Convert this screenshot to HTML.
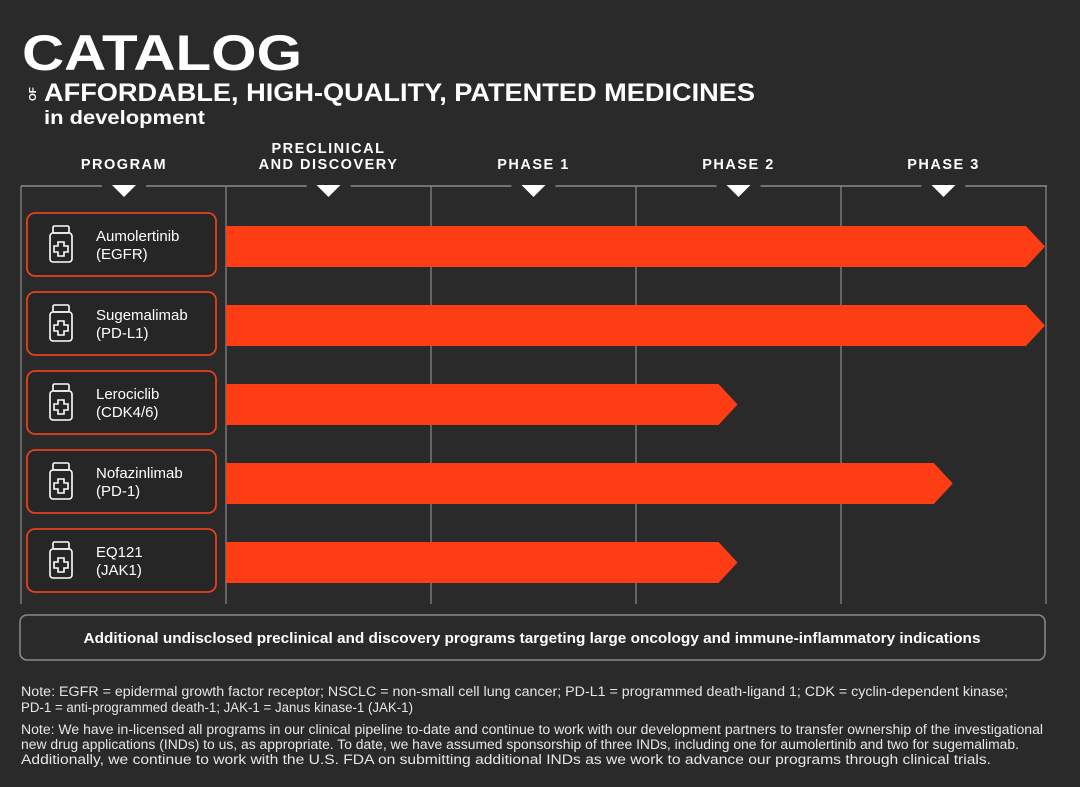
<!DOCTYPE html>
<html><head><meta charset="utf-8"><style>
html,body{margin:0;padding:0;background:#2a2a2a;}
svg{display:block;font-family:"Liberation Sans",sans-serif;}
</style></head><body>
<svg id="c" width="1080" height="787" viewBox="0 0 1080 787">
<rect width="1080" height="787" fill="#2a2a2a"/>
<text x="22" y="70" fill="#fff" font-size="50" font-weight="bold" textLength="280" lengthAdjust="spacingAndGlyphs">CATALOG</text>
<text x="0" y="0" fill="#fff" font-size="10" font-weight="bold" transform="translate(36,101) rotate(-90)">OF</text>
<text x="44" y="101" fill="#fff" font-size="25" font-weight="bold" textLength="711" lengthAdjust="spacingAndGlyphs">AFFORDABLE, HIGH-QUALITY, PATENTED MEDICINES</text>
<text x="44" y="124" fill="#fff" font-size="19" font-weight="bold" textLength="161" lengthAdjust="spacingAndGlyphs">in development</text>
<g id="grid"></g>
<g id="heads"></g>
<g id="rows"></g>
<rect x="20" y="615" width="1025" height="45" rx="7" fill="none" stroke="#8a8a8a" stroke-width="1.5"/>
<text x="532" y="643" fill="#fff" font-size="14.5" font-weight="bold" text-anchor="middle" textLength="897" lengthAdjust="spacingAndGlyphs">Additional undisclosed preclinical and discovery programs targeting large oncology and immune-inflammatory indications</text>
<g fill="#e6e6e6" font-size="13.5">
<text x="21" y="696" textLength="987" lengthAdjust="spacingAndGlyphs">Note: EGFR = epidermal growth factor receptor; NSCLC = non-small cell lung cancer; PD-L1 = programmed death-ligand 1; CDK = cyclin-dependent kinase;</text>
<text x="21" y="712" textLength="392" lengthAdjust="spacingAndGlyphs">PD-1 = anti-programmed death-1; JAK-1 = Janus kinase-1 (JAK-1)</text>
<text x="21" y="734" textLength="1022" lengthAdjust="spacingAndGlyphs">Note: We have in-licensed all programs in our clinical pipeline to-date and continue to work with our development partners to transfer ownership of the investigational</text>
<text x="21" y="749" textLength="998" lengthAdjust="spacingAndGlyphs">new drug applications (INDs) to us, as appropriate. To date, we have assumed sponsorship of three INDs, including one for aumolertinib and two for sugemalimab.</text>
<text x="21" y="764" textLength="970" lengthAdjust="spacingAndGlyphs">Additionally, we continue to work with the U.S. FDA on submitting additional INDs as we work to advance our programs through clinical trials.</text>
</g>
</svg>
<script>
const phases = ["PRECLINICAL|AND DISCOVERY","PHASE 1","PHASE 2","PHASE 3"];
const programs = ["Aumolertinib","Sugemalimab","Lerociclib","Nofazinlimab","EQ121"];
const targets = ["(EGFR)","(PD-L1)","(CDK4/6)","(PD-1)","(JAK1)"];
const progress = [4, 4, 2.5, 3.55, 2.5];

const NS="http://www.w3.org/2000/svg";
const x0=226, colW=205;
const xS=v=>x0+v*colW;
const rowY=i=>213+i*79;
function mk(tag,attrs,parent){const e=document.createElementNS(NS,tag);for(const k in attrs)e.setAttribute(k,attrs[k]);parent.appendChild(e);return e;}
const grid=document.getElementById('grid'), heads=document.getElementById('heads'), rows=document.getElementById('rows');
const hl=mk('line',{x1:21,x2:1047,y1:186,y2:186,stroke:'#8a8a8a','stroke-width':1.5},grid);


const vxs=[21];for(let i=0;i<=phases.length;i++)vxs.push(xS(i));
vxs.forEach((x,i)=>{const l=mk('line',{x1:x,x2:x,y1:186,y2:604,stroke:'#8a8a8a','stroke-width':1.2},grid);

});
const headCols=[{label:"PROGRAM",cx:124}].concat(phases.map((p,i)=>({label:p,cx:xS(i+0.5)})));
headCols.forEach(h=>{
 const g=mk('g',{},heads);
 
 
 const lines=h.label.split('|');
 lines.forEach((t,j)=>{const tx=mk('text',{x:h.cx,y:(lines.length>1?153:169)+j*16,fill:'#fff','font-size':14.5,'font-weight':'bold','text-anchor':'middle','letter-spacing':'1.5'},g);tx.textContent=t;});
 mk('rect',{x:h.cx-22,y:181,width:44,height:10,fill:'#2a2a2a'},g);
 mk('polygon',{points:`${h.cx-12},185 ${h.cx+12},185 ${h.cx},197`,fill:'#fff'},g);
});
programs.forEach((p,i)=>{
 const y=rowY(i);
 const g=mk('g',{},rows);
 
 
 const box=mk('rect',{x:27,y:y,width:189,height:63,rx:8,fill:'#262626',stroke:'#e8401c','stroke-width':1.8},g);
 
 
 const ic=mk('g',{fill:'none',stroke:'#fff','stroke-width':1.6},g);
 
 
 mk('rect',{x:53,y:y+13,width:16,height:7,rx:1.5},ic);
 mk('rect',{x:50,y:y+20,width:22,height:29,rx:3},ic);
 mk('path',{d:`M58 ${y+29}h6v4h4v6h-4v4h-6v-4h-4v-6h4z`},ic);
 const t1=mk('text',{x:96,y:y+28,fill:'#fff','font-size':15},g);t1.textContent=p;
 const t2=mk('text',{x:96,y:y+46,fill:'#fff','font-size':15},g);t2.textContent=targets[i];
 const tip=xS(progress[i])-1, by=y+13, bh=41;
 const bar=mk('polygon',{points:`${x0},${by} ${tip-19},${by} ${tip},${by+bh/2} ${tip-19},${by+bh} ${x0},${by+bh}`,fill:'#ff3d14'},g);
 
 
});
</script>
</body></html>
